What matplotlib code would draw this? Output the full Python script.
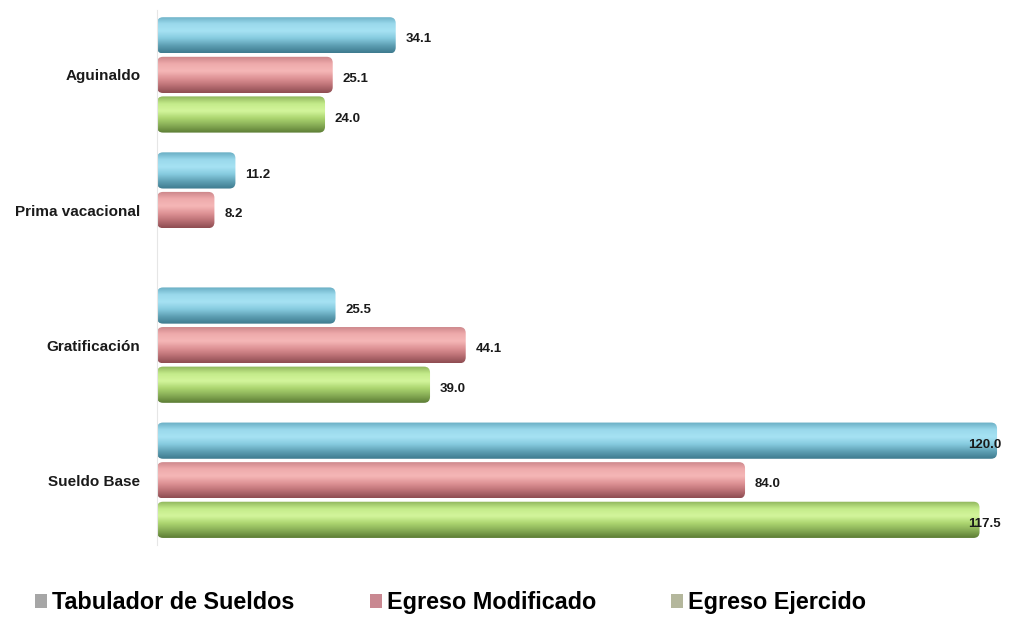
import numpy as np
import matplotlib
matplotlib.use("Agg")
import matplotlib.pyplot as plt
from matplotlib.patches import Patch, FancyBboxPatch
from matplotlib.colors import LinearSegmentedColormap

plt.rcParams['font.family'] = ['Liberation Sans', 'DejaVu Sans']

categories = ["Sueldo Base", "Gratificación", "Prima vacacional", "Aguinaldo"]
series_names = ["Tabulador de Sueldos", "Egreso Modificado", "Egreso Ejercido"]
tabulador = [120.0, 25.5, 11.2, 34.1]
modificado = [84.0, 44.1, 8.2, 25.1]
ejercido = [117.5, 39.0, np.nan, 24.0]

# gradient stops per series (bottom -> top)
shades = [
    ["#3e7b8f", "#5e9fb3", "#86cbdf", "#a6e2f3", "#9ad9ec", "#6aaec4"],
    ["#8e4d52", "#bb7075", "#df9396", "#f5b7b7", "#eeaaab", "#c98488"],
    ["#5d7d35", "#86ac55", "#acd570", "#d3f59c", "#c4eb8a", "#8fb55c"],
]
legend_cols = ["#a6a6a6", "#c98891", "#b4b79c"]

fig = plt.figure(figsize=(10.15, 6.28), dpi=100)
ax = fig.add_axes([0.1547, 0.132, 0.8345, 0.852])

y = np.arange(len(categories))
step = 0.293
h = 0.268
offsets = [step, 0, -step]

ax.set_xlim(0, 121)
ax.set_ylim(-0.48, 3.48)
# rounding of bar ends: ~6 px in both directions
px_x = 121 / (0.8345 * 1015)
px_y = 3.96 / (0.852 * 628)
r = 6 * px_x
asp = px_y / px_x

grad = np.linspace(0, 1, 64).reshape(-1, 1)
for vals, off, sh in zip([tabulador, modificado, ejercido], offsets, shades):
    cmap = LinearSegmentedColormap.from_list("c", sh)
    bars = ax.barh(y + off, vals, height=h, color="none", edgecolor="none")
    for bar, v in zip(bars, vals):
        if np.isnan(v):
            continue
        y0 = bar.get_y()
        clip = FancyBboxPatch((0, y0), v, h, boxstyle=f"round,pad=0,rounding_size={r}",
                              mutation_aspect=asp, transform=ax.transData)
        im = ax.imshow(grad, cmap=cmap, aspect="auto", origin="lower",
                       extent=(0, v, y0, y0 + h), interpolation="bicubic", zorder=2)
        im.set_clip_path(clip)
        if v > 110:
            ax.annotate(f"{v:.1f}", (120, y0 + h / 2), xytext=(3, -3), textcoords="offset points",
                        ha="right", va="center", fontsize=9.5, fontweight="bold", color="#1a1a1a", zorder=4)
        else:
            ax.annotate(f"{v:.1f}", (v, y0 + h / 2), xytext=(7, -3), textcoords="offset points",
                        ha="left", va="center", fontsize=9.5, fontweight="bold", color="#1a1a1a", zorder=4)

ax.set_xlim(0, 121)
ax.set_ylim(-0.48, 3.48)
ax.set_yticks(y)
ax.set_yticklabels(categories, fontsize=11, fontweight="bold", color="#1a1a1a")
ax.tick_params(axis="y", length=0, pad=12)
ax.set_xticks([])
for s in ["top", "right", "bottom"]:
    ax.spines[s].set_visible(False)
ax.spines["left"].set_color("#e6e6e6")

handles = [Patch(facecolor=c, edgecolor="none") for c in legend_cols]
fig.legend(handles, series_names, loc="center left", bbox_to_anchor=(0.014, 0.04), ncol=3,
           frameon=False, handlelength=0.52, handleheight=0.52, handletextpad=0.22,
           columnspacing=3.2, prop={"size": 16.8, "weight": "bold"})

fig.savefig("out.png", dpi=100)
